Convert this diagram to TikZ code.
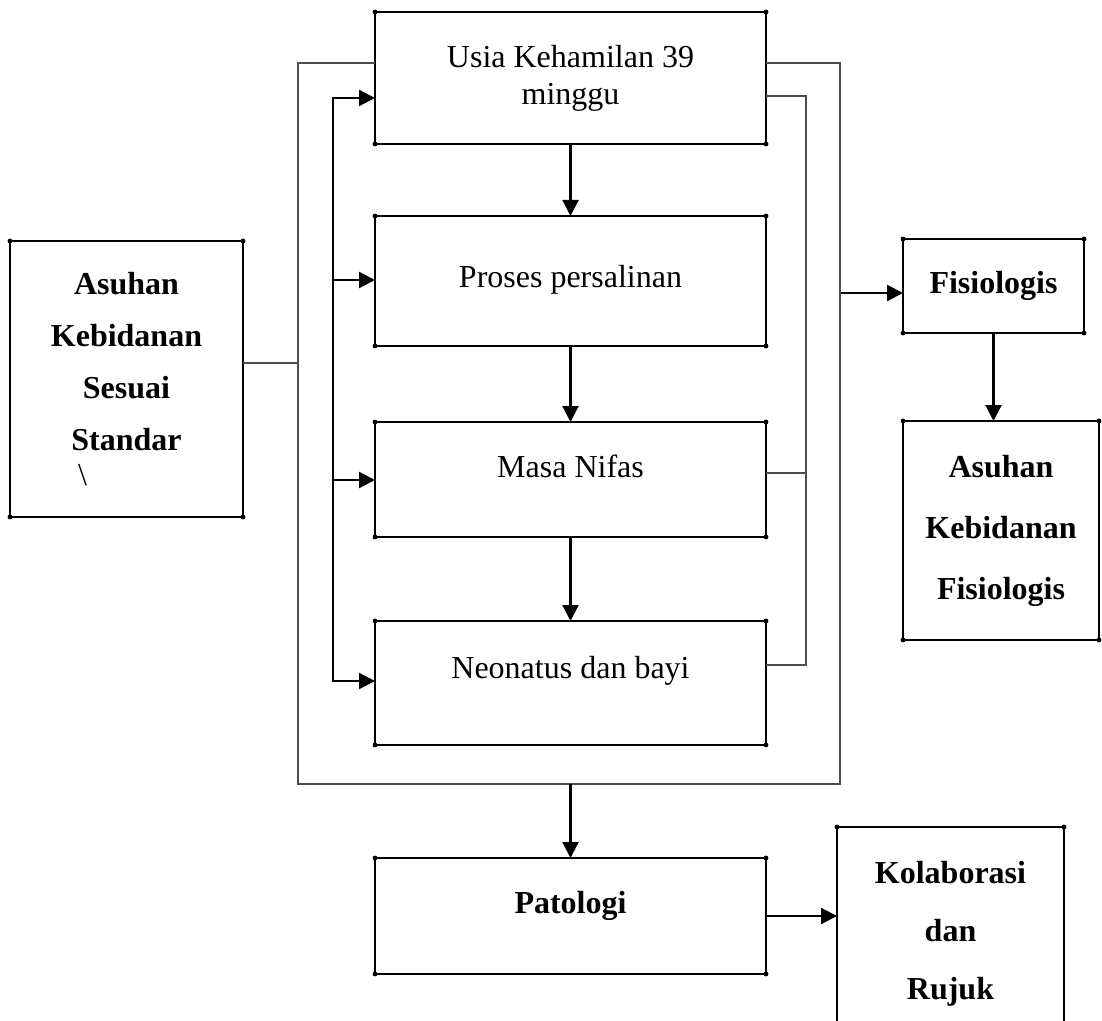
\documentclass[tikz,border=0pt]{standalone}
\usepackage{fontspec}
\setmainfont{Liberation Serif}
\usetikzlibrary{arrows.meta}
\tikzset{mbox/.style={draw,line width=1.4pt,inner sep=0pt,outer sep=0pt,align=center,font=\fontsize{16pt}{19pt}\selectfont}}
\tikzset{mbold/.style={mbox,font=\fontsize{16pt}{#1}\selectfont\bfseries}}
\tikzset{mlift/.style={text height=11pt,text depth=#1}}
\tikzset{marrow/.style={line width=1.1pt,-{Triangle[length=8pt,width=8pt]}}}
\tikzset{mline/.style={line width=0.6pt,black!70}}
\tikzset{mbus/.style={line width=1.1pt,line cap=rect}}

\begin{document}
\begin{tikzpicture}[x=0.5pt,y=-0.5pt]
\useasboundingbox (0,0) rectangle (1102,1021);
\clip (0,0) rectangle (1102,1021);

\node[mbox,minimum width=195.5pt,minimum height=66pt,font=\fontsize{16pt}{18.5pt}\selectfont] (usia) at (570.5,78) {Usia Kehamilan 39\\minggu};
\node[mbox,mlift=4.4pt,minimum width=195.5pt,minimum height=65pt] (proses) at (570.5,281) {Proses persalinan};
\node[mbox,mlift=12.9pt,minimum width=195.5pt,minimum height=57.5pt] (nifas) at (570.5,479.5) {Masa Nifas};
\node[mbox,mlift=15.4pt,minimum width=195.5pt,minimum height=62pt] (neonatus) at (570.5,683) {Neonatus dan bayi};
\node[mbold=19pt,mlift=13.4pt,minimum width=195.5pt,minimum height=58pt] (patologi) at (570.5,916) {Patologi};

\node[mbold=26pt,minimum width=116.5pt,minimum height=138pt] (asuhan) at (126.5,379) {Asuhan\\Kebidanan\\Sesuai\\Standar\\[-8.5pt]\hspace*{-44pt}{\mdseries\textbackslash}};

\node[mbold=19pt,minimum width=90.5pt,minimum height=47pt] (fisio) at (993.5,286) {Fisiologis};
\node[mbold=30.5pt,minimum width=98pt,minimum height=109.5pt] (akf) at (1001,530.5) {Asuhan\\Kebidanan\\Fisiologis};
\node[mbold=29pt,minimum width=113.5pt,minimum height=106.5pt] (kolab) at (950.5,933.5) {Kolaborasi\\dan\\Rujuk};

\foreach \n in {usia,proses,nifas,neonatus,patologi,asuhan,fisio,akf,kolab}
  \foreach \c in {north west,north east,south west,south east}
    \fill (\n.\c) circle (1.2pt);

% thin frame round the stages
\coordinate (frTL) at (298,63);
\coordinate (frTR) at (840,63);
\coordinate (frBL) at (298,784);
\coordinate (frBR) at (840,784);
\coordinate (frL) at (298,363);
\coordinate (frB) at (570.5,784);
\coordinate (frR) at (841,293);
\draw[mline] (usia.west |- frTL) -- (frTL) -- (frBL) -- (frBR) -- (frTR) -- (usia.east |- frTR);
\draw[mline] (asuhan.east |- frL) -- (frL);

\coordinate (rbT) at (806,96);
\coordinate (rbM) at (806,473);
\coordinate (rbB) at (806,665);
\draw[mline] (usia.east |- rbT) -- (rbT) -- (rbB) -- (neonatus.east |- rbB);
\draw[mline] (nifas.east |- rbM) -- (rbM);

% left bus
\coordinate (lb1) at (333,98);
\coordinate (lb2) at (333,280);
\coordinate (lb3) at (333,480);
\coordinate (lb4) at (333,681);
\draw[mbus] (lb1) -- (lb4);
\foreach \b/\n in {lb1/usia,lb2/proses,lb3/nifas,lb4/neonatus}
  \draw[marrow] (\b) -- (\b -| \n.west);

\draw[marrow] (usia) -- (proses);
\draw[marrow] (proses) -- (nifas);
\draw[marrow] (nifas) -- (neonatus);
\draw[marrow] (frR) -- (frR -| fisio.west);
\draw[marrow] (fisio.south) -- (fisio.south |- akf.north);
\draw[marrow] (frB) -- (patologi);
\draw[marrow] (patologi.east) -- (patologi.east -| kolab.west);

\end{tikzpicture}
\end{document}
